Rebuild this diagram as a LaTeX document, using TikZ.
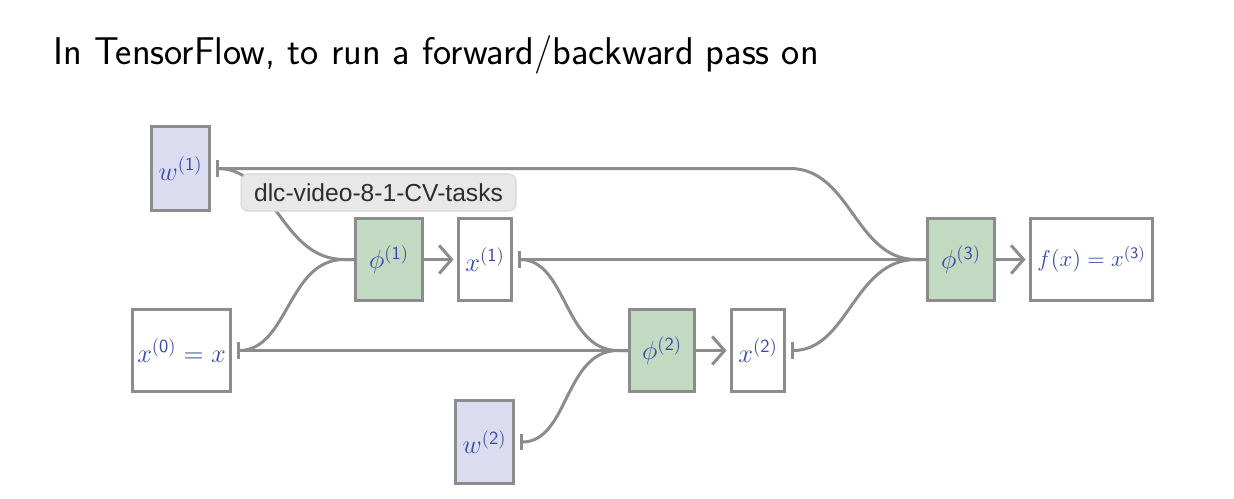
\documentclass[tikz,border=0pt]{standalone}
\usepackage{fix-cm}
\usepackage{fontspec}
\newfontfamily\tipfont{Liberation Sans}
\usetikzlibrary{arrows.meta}
\definecolor{lgray}{RGB}{140,140,140}
\definecolor{wfill}{RGB}{220,220,240}
\definecolor{pfill}{RGB}{194,218,194}
\definecolor{mblue}{RGB}{55,72,168}
\definecolor{tipbg}{RGB}{232,232,232}
\definecolor{tipline}{RGB}{215,215,215}
\definecolor{tipfg}{RGB}{45,45,45}
\newcommand{\psup}[1]{^{\mathsf{(#1)}}}
\begin{document}
\begin{tikzpicture}[x=0.02cm,y=-0.02cm,
  box/.style={draw=lgray,line width=1.7pt,fill=white,minimum height=1.64cm,inner sep=0pt,text=mblue,font=\fontsize{15}{18}\selectfont},
  wbox/.style={box,fill=wfill,minimum width=1.16cm,minimum height=1.68cm},
  opbox/.style={box,fill=pfill},
  conn/.style={draw=lgray,line width=1.7pt},
  src/.style={conn,{Bar[width=9.5pt]}-,shorten <=2.8pt},
  fwd/.style={conn,-{Straight Barb[length=7pt,width=16pt]},shorten >=2pt},
]
\fill[white] (0,0) rectangle (1234,498);
\useasboundingbox (0,0) rectangle (1234,498);

\node[anchor=base west,font=\sffamily\fontsize{22}{26}\selectfont,inner xsep=0pt] (title) at (53,64) {In TensorFlow, to run a forward/backward pass on};

\node[wbox] (w1) at (180.5,168.5) {$w\psup{1}$};
\node[opbox,minimum width=1.34cm] (phi1) at (389,259.5) {$\phi\psup{1}$};
\node[box,minimum width=1.06cm] (x1) at (485,259.5) {$x\psup{1}$};
\node[box,minimum width=1.96cm] (x0) at (181.5,350.5) {$x\psup{0} = x$};
\node[opbox,minimum width=1.30cm] (phi2) at (662,350.5) {$\phi\psup{2}$};
\node[box,minimum width=1.06cm] (x2) at (758,350.5) {$x\psup{2}$};
\node[wbox,minimum height=1.66cm] (w2) at (484.5,442) {$w\psup{2}$};
\node[opbox,minimum width=1.34cm] (phi3) at (961,259.5) {$\phi\psup{3}$};
\node[box,minimum width=2.44cm,font=\fontsize{13}{16}\selectfont] (fx) at (1091.5,259.5) {$f\mathsf{(}x\mathsf{)} = x\psup{3}$};

\coordinate (bend) at (790,168.5);
\coordinate (in1) at ([xshift=-0.2cm]phi1.west);
\coordinate (in2) at ([xshift=-0.2cm]phi2.west);
\coordinate (in3) at ([xshift=-0.2cm]phi3.west);

\draw[src] (w1.east) -- (bend) to[out=0,in=180] (in3) -- (phi3.west);
\draw[src] (w1.east) to[out=0,in=180] (in1) -- (phi1.west);
\draw[src] (x0.east) to[out=0,in=180] (in1) -- (phi1.west);
\draw[src] (x0.east) -- (phi2.west);
\draw[src] (x1.east) -- (phi3.west);
\draw[src] (x1.east) to[out=0,in=180] (in2) -- (phi2.west);
\draw[src] (w2.east) to[out=0,in=180] (in2) -- (phi2.west);
\draw[src] (x2.east) to[out=0,in=180] (in3) -- (phi3.west);

\draw[fwd] (phi1.east) -- (x1.west);
\draw[fwd] (phi2.east) -- (x2.west);
\draw[fwd] (phi3.east) -- (fx.west);

\node[rounded corners=4pt,fill=tipbg,draw=tipline,line width=0.6pt,minimum width=5.5cm,minimum height=0.74cm,inner sep=0pt,text=tipfg,font=\tipfont\fontsize{14}{16}\selectfont] (tip) at (378.5,192.5) {dlc-video-8-1-CV-tasks};
\end{tikzpicture}
\end{document}
